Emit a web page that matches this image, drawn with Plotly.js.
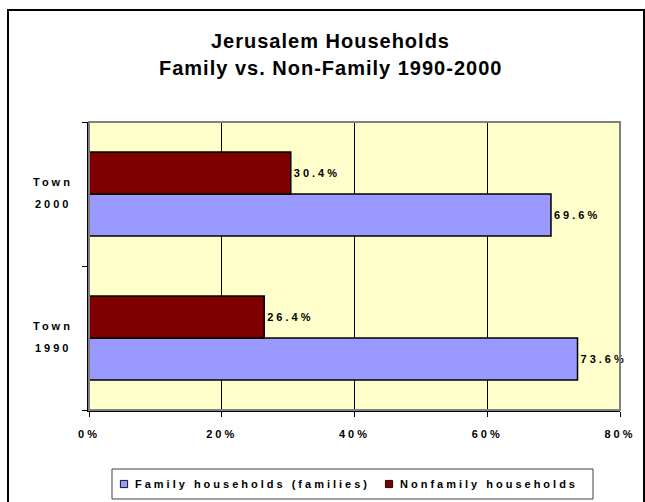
<!DOCTYPE html>
<html>
<head>
<meta charset="utf-8">
<script src="https://cdn.plot.ly/plotly-3.0.1.min.js"></script>
<style>
  html, body { margin: 0; padding: 0; background: #ffffff; overflow: hidden; }
  #wrap { position: relative; width: 645px; height: 502px; overflow: hidden; }
  #chart { width: 645px; height: 502px; }
  #frame { position: absolute; left: 7px; top: 9px; width: 634px; height: 900px;
           border: 2px solid #000000; pointer-events: none; }
  text.bartext, text.legendtext, .xtick text, text.annotation-text { letter-spacing: 3px !important; }
  .xtick text { font-weight: bold; }
  .annotation[data-index="0"] text, .annotation[data-index="1"] text { letter-spacing: 1px !important; }
  .legend .legendpoints path, .legend2 .legendpoints path { transform: translate(29px, 0px) scale(0.6); }
</style>
</head>
<body>
<div id="wrap">
<div id="chart"></div>
<div id="frame"></div>
</div>
<script>
// ---- data ----
var categories = ['Town 1990', 'Town 2000'];
var labelLine1 = ['Town', 'Town'];
var labelLine2 = ['1990', '2000'];
var familyPct = [73.6, 69.6];
var nonfamilyPct = [26.4, 30.4];
var seriesNames = ['Family households (families)', 'Nonfamily households'];
var titleLines = ['Jerusalem Households', 'Family vs. Non-Family 1990-2000'];
var xTickVals = [0, 20, 40, 60, 80];
var xTickText = ['0%', '20%', '40%', '60%', '80%'];

var FONT = 'Liberation Sans, Arial, sans-serif';

var traces = [
  {
    type: 'bar', orientation: 'h', name: seriesNames[0],
    y: categories, x: familyPct,
    marker: { color: '#9999FF', line: { color: '#000000', width: 1.5 } },
    texttemplate: '%{x:.1f}%', textposition: 'outside', cliponaxis: false,
    constraintext: 'none',
    textfont: { family: FONT, size: 11, color: '#000000', weight: 'bold' },
    hoverinfo: 'skip', legend: 'legend'
  },
  {
    type: 'bar', orientation: 'h', name: seriesNames[1],
    y: categories, x: nonfamilyPct,
    marker: { color: '#800000', line: { color: '#000000', width: 1.5 } },
    texttemplate: '%{x:.1f}%', textposition: 'outside', cliponaxis: false,
    constraintext: 'none',
    textfont: { family: FONT, size: 11, color: '#000000', weight: 'bold' },
    hoverinfo: 'skip', legend: 'legend2'
  }
];

var annotations = [
  { text: titleLines[0], xref: 'paper', yref: 'paper', x: 0.4557, y: 1.28125,
    xanchor: 'center', yanchor: 'middle', showarrow: false,
    font: { family: FONT, size: 20, color: '#000000', weight: 'bold' } },
  { text: titleLines[1], xref: 'paper', yref: 'paper', x: 0.4557, y: 1.1875,
    xanchor: 'center', yanchor: 'middle', showarrow: false,
    font: { family: FONT, size: 20, color: '#000000', weight: 'bold' } }
];
categories.forEach(function (c, i) {
  annotations.push({ text: labelLine1[i], xref: 'paper', yref: 'y', x: -0.0678, y: c,
    yshift: 12, xanchor: 'center', yanchor: 'middle', showarrow: false,
    font: { family: FONT, size: 11, color: '#000000', weight: 'bold' } });
  annotations.push({ text: labelLine2[i], xref: 'paper', yref: 'y', x: -0.0678, y: c,
    yshift: -10, xanchor: 'center', yanchor: 'middle', showarrow: false,
    font: { family: FONT, size: 11, color: '#000000', weight: 'bold' } });
});

var legendFont = { family: FONT, size: 11, color: '#000000', weight: 'bold' };

var layout = {
  width: 645, height: 502,
  margin: { l: 89, r: 25, t: 122, b: 92, autoexpand: false },
  paper_bgcolor: '#ffffff', plot_bgcolor: '#FFFFCC',
  barmode: 'group', bargap: 0.4167, bargroupgap: 0,
  showlegend: true,
  xaxis: {
    range: [0, 80], tickmode: 'array', tickvals: xTickVals, ticktext: xTickText,
    showgrid: true, gridcolor: '#000000', gridwidth: 1,
    zeroline: false, showline: true, linecolor: '#000000', linewidth: 2,
    ticks: 'outside', ticklen: 5, tickcolor: '#000000', tickwidth: 1,
    ticklabelstandoff: 8,
    tickfont: { family: FONT, size: 11, color: '#000000', weight: 'bold' },
    fixedrange: true
  },
  yaxis: {
    type: 'category', categoryorder: 'array', categoryarray: categories,
    range: [-0.5, 1.5],
    showticklabels: false, showgrid: false, zeroline: false,
    showline: true, linecolor: '#000000', linewidth: 2,
    ticks: 'outside', tickson: 'boundaries', ticklen: 5, tickcolor: '#000000', tickwidth: 1,
    fixedrange: true
  },
  legend: {
    orientation: 'h', x: 0.0113, xanchor: 'left', y: -0.257, yanchor: 'middle',
    bgcolor: 'rgba(0,0,0,0)', borderwidth: 0, font: legendFont
  },
  legend2: {
    orientation: 'h', x: 0.5104, xanchor: 'left', y: -0.257, yanchor: 'middle',
    bgcolor: 'rgba(0,0,0,0)', borderwidth: 0, font: legendFont
  },
  shapes: [
    { type: 'rect', xref: 'paper', yref: 'paper', x0: 0, x1: 1, y0: 0, y1: 1,
      line: { color: '#808080', width: 2 }, layer: 'above' },
    { type: 'rect', xref: 'paper', yref: 'paper', x0: 0.0433, x1: 0.9492, y0: -0.309, y1: -0.2049,
      line: { color: '#404040', width: 1 } }
  ],
  annotations: annotations
};

Plotly.newPlot('chart', traces, layout, { displayModeBar: false, staticPlot: true }).then(function () {
  document.querySelectorAll('#chart .legend2 text, #chart .legend text').forEach(function (t) {
    t.style.setProperty('letter-spacing', '3px', 'important');
  });
  document.querySelectorAll('#chart .legend2 [clip-path], #chart .legend [clip-path]').forEach(function (e) {
    e.removeAttribute('clip-path');
  });
});
</script>
</body>
</html>
